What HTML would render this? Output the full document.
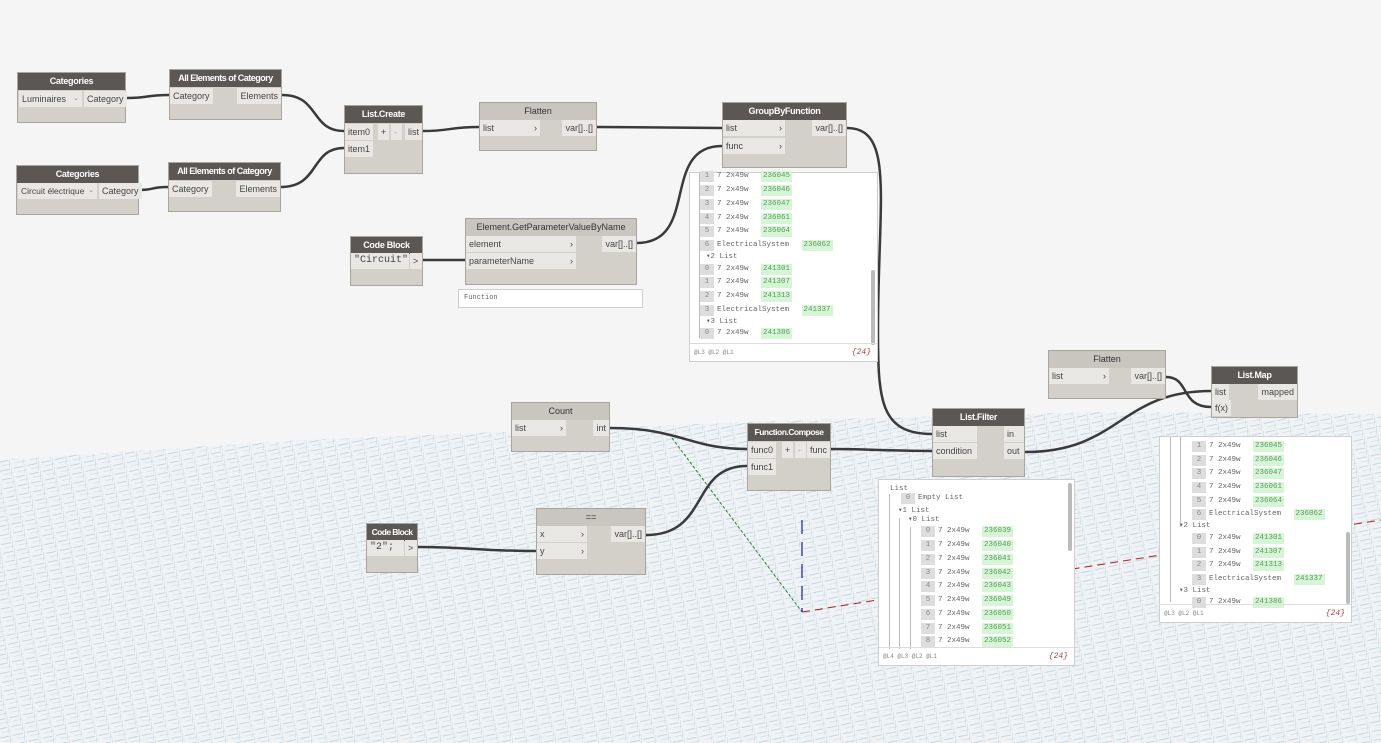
<!DOCTYPE html>
<html><head><meta charset="utf-8">
<style>
*{box-sizing:border-box;margin:0;padding:0}
body{width:1381px;height:743px;overflow:hidden;background:#f5f5f5;font-family:"Liberation Sans",sans-serif;position:relative}
svg.bg{position:absolute;left:0;top:0}
.n{position:absolute;background:#d3cfc9;border:1px solid #a8a49e;font-size:9px;color:#333}
.h{height:17px;background:#5b5754;color:#fff;font-weight:bold;text-align:center;line-height:17px;font-size:9px;white-space:nowrap;overflow:visible;letter-spacing:-0.3px}
.h.l{background:#c9c5bf;color:#333;font-weight:normal;letter-spacing:0}
.p{position:absolute;background:#e9e7e3;height:16px;line-height:16px;padding:0 3px;font-size:9px;color:#444;white-space:nowrap}
.w{position:absolute;background:#fff;border:1px solid #cfcfcf;font-family:"Liberation Mono",monospace;font-size:7.5px;color:#666}
.r{position:absolute;white-space:nowrap;line-height:11px}
.i{display:inline-block;background:#ddd;color:#888;width:14px;text-align:center;margin-right:3px}
.g{display:inline-block;background:#d6f5d6;color:#5a9a5a;padding:0 2px;margin-left:8px}
.f{position:absolute;left:0;right:0;bottom:0;height:18px;border-top:1px solid #ddd;font-size:6px;line-height:17px;padding-left:4px;color:#888}
.f b{position:absolute;right:6px;font-weight:normal;font-style:italic;color:#a44;font-size:8px}
.sb{position:absolute;width:4px;background:#bbb;border-radius:2px}
.vl{position:absolute;width:1px;background:#bbb}
</style></head><body>
<svg class="bg" width="1381" height="743">
<defs>
<pattern id="gp" width="14" height="9" patternUnits="userSpaceOnUse" patternTransform="rotate(-12)">
<rect width="14" height="9" fill="#f0f3f5"/>
<line x1="0" y1="2" x2="10" y2="2" stroke="#b3cad8" stroke-width="0.7"/>
<line x1="3" y1="6" x2="13" y2="6" stroke="#d2dde4" stroke-width="0.7"/>
<line x1="12" y1="0" x2="10" y2="9" stroke="#c3d3dc" stroke-width="0.5"/>
</pattern>
</defs>
<polygon points="0,460 300,440 800,420 1100,412 1381,414 1381,743 0,743" fill="url(#gp)"/>
<line x1="672" y1="438" x2="802" y2="612" stroke="#2a7a2a" stroke-width="1" stroke-dasharray="3,2"/>
<line x1="802" y1="520" x2="802" y2="612" stroke="#2233aa" stroke-width="1.3" stroke-dasharray="14,8"/>
<line x1="802" y1="612" x2="1381" y2="520" stroke="#aa2222" stroke-width="1" stroke-dasharray="8,5"/>
<g fill="none" stroke="#3a3a3a" stroke-width="2.5">
<path d="M126,98 C150,98 145,95 169,95"/>
<path d="M139,190 C155,190 150,187 168,187"/>
<path d="M282,95 C320,95 310,131 344,131"/>
<path d="M281,187 C320,187 310,148 344,148"/>
<path d="M423,131 C450,131 450,127 479,127"/>
<path d="M597,127 L722,128"/>
<path d="M423,260 L465,260"/>
<path d="M637,243 C700,243 660,146 722,146"/>
<path d="M847,128 C895,128 878,200 878,330 C878,400 880,434 932,434"/>
<path d="M610,428 C680,428 690,449 747,449"/>
<path d="M418,547 C470,547 480,551 536,551"/>
<path d="M646,535 C710,535 690,466 747,466"/>
<path d="M831,449 C880,449 880,451 932,451"/>
<path d="M1025,452 C1120,452 1120,391 1211,391"/>
<path d="M1166,377 C1190,377 1180,407 1211,407"/>
</g>
</svg>

<div class="n" style="left:17px;top:72px;width:109px;height:51px"><div class="h">Categories</div>
<div class="p" style="left:1px;top:18px;width:63px">Luminaires <span style="float:right;font-size:7px;color:#888">⌄</span></div><div class="p" style="left:66px;top:18px">Category</div></div>
<div class="n" style="left:169px;top:69px;width:113px;height:51px"><div class="h" style="letter-spacing:-0.5px">All Elements of Category</div>
<div class="p" style="left:0;top:18px">Category</div><div class="p" style="right:0;top:18px">Elements</div></div>
<div class="n" style="left:16px;top:165px;width:123px;height:50px"><div class="h">Categories</div>
<div class="p" style="left:1px;top:17px;width:79px;font-size:8.5px">Circuit électrique <span style="float:right;font-size:7px;color:#888">⌄</span></div><div class="p" style="left:82px;top:17px">Category</div></div>
<div class="n" style="left:168px;top:162px;width:113px;height:50px"><div class="h" style="letter-spacing:-0.5px">All Elements of Category</div>
<div class="p" style="left:0;top:18px">Category</div><div class="p" style="right:0;top:18px">Elements</div></div>

<div class="n" style="left:344px;top:105px;width:79px;height:69px"><div class="h">List.Create</div>
<div class="p" style="left:0;top:18px">item0</div><div class="p" style="left:33px;top:18px;width:11px">+</div><div class="p" style="left:46px;top:18px;width:11px;color:#aaa">-</div><div class="p" style="right:0;top:18px">list</div>
<div class="p" style="left:0;top:35px">item1</div></div>

<div class="n" style="left:479px;top:102px;width:118px;height:49px"><div class="h l">Flatten</div>
<div class="p" style="left:0;top:17px;width:60px">list<span style="float:right">›</span></div><div class="p" style="right:0;top:17px">var[]..[]</div></div>

<div class="n" style="left:722px;top:102px;width:125px;height:66px"><div class="h">GroupByFunction</div>
<div class="p" style="left:0;top:17px;width:62px">list<span style="float:right">›</span></div><div class="p" style="right:0;top:17px">var[]..[]</div>
<div class="p" style="left:0;top:35px;width:62px">func<span style="float:right">›</span></div></div>

<div class="w" style="left:689px;top:172px;width:189px;height:190px">
<div class="vl" style="left:9px;top:0;height:165px"></div>
<div class="r" style="left:10px;top:-2px"><span class="i">1</span>7 2x49w <span class="g">236045</span></div>
<div class="r" style="left:10px;top:12px"><span class="i">2</span>7 2x49w <span class="g">236046</span></div>
<div class="r" style="left:10px;top:26px"><span class="i">3</span>7 2x49w <span class="g">236047</span></div>
<div class="r" style="left:10px;top:40px"><span class="i">4</span>7 2x49w <span class="g">236061</span></div>
<div class="r" style="left:10px;top:53px"><span class="i">5</span>7 2x49w <span class="g">236064</span></div>
<div class="r" style="left:10px;top:67px"><span class="i">6</span>ElectricalSystem <span class="g">236062</span></div>
<div class="r" style="left:16px;top:79px">▾2 List</div>
<div class="r" style="left:10px;top:91px"><span class="i">0</span>7 2x49w <span class="g">241301</span></div>
<div class="r" style="left:10px;top:104px"><span class="i">1</span>7 2x49w <span class="g">241307</span></div>
<div class="r" style="left:10px;top:118px"><span class="i">2</span>7 2x49w <span class="g">241313</span></div>
<div class="r" style="left:10px;top:132px"><span class="i">3</span>ElectricalSystem <span class="g">241337</span></div>
<div class="r" style="left:16px;top:144px">▾3 List</div>
<div class="r" style="left:10px;top:155px"><span class="i">0</span>7 2x49w <span class="g">241386</span></div>
<div class="sb" style="left:181px;top:97px;height:75px"></div>
<div class="f">@L3 @L2 @L1<b>{24}</b></div></div>

<div class="n" style="left:350px;top:236px;width:73px;height:50px"><div class="h">Code Block</div>
<div class="p" style="left:0;top:16px;width:58px;font-family:'Liberation Mono',monospace;font-size:10px">"Circuit";</div><div class="p" style="right:0;top:16px;width:12px">&gt;</div></div>

<div class="n" style="left:465px;top:218px;width:172px;height:67px"><div class="h l">Element.GetParameterValueByName</div>
<div class="p" style="left:0;top:17px;width:110px">element<span style="float:right">›</span></div><div class="p" style="right:0;top:17px">var[]..[]</div>
<div class="p" style="left:0;top:34px;width:110px">parameterName<span style="float:right">›</span></div></div>
<div class="w" style="left:458px;top:289px;width:185px;height:19px;padding:4px 5px;font-size:7px">Function</div>

<div class="n" style="left:511px;top:402px;width:99px;height:50px"><div class="h l">Count</div>
<div class="p" style="left:0;top:17px;width:54px">list<span style="float:right">›</span></div><div class="p" style="right:0;top:17px">int</div></div>

<div class="n" style="left:747px;top:423px;width:84px;height:68px"><div class="h" style="letter-spacing:-0.5px;font-size:8.5px">Function.Compose</div>
<div class="p" style="left:0;top:18px">func0</div><div class="p" style="left:34px;top:18px;width:11px">+</div><div class="p" style="left:47px;top:18px;width:11px;color:#aaa">-</div><div class="p" style="right:0;top:18px">func</div>
<div class="p" style="left:0;top:35px">func1</div></div>

<div class="n" style="left:932px;top:408px;width:93px;height:69px"><div class="h">List.Filter</div>
<div class="p" style="left:0;top:17px;width:44px">list</div><div class="p" style="right:0;top:17px;width:20px">in</div>
<div class="p" style="left:0;top:34px;width:44px">condition</div><div class="p" style="right:0;top:34px;width:20px">out</div></div>

<div class="w" style="left:878px;top:479px;width:197px;height:187px">
<div class="vl" style="left:10px;top:14px;height:155px"></div><div class="vl" style="left:20px;top:38px;height:131px"></div><div class="vl" style="left:31px;top:47px;height:122px"></div>
<div class="r" style="left:11px;top:4px">List</div>
<div class="r" style="left:22px;top:13px"><span class="i">0</span>Empty List</div>
<div class="r" style="left:19px;top:26px">▾1 List</div>
<div class="r" style="left:29px;top:35px">▾0 List</div>
<div class="r" style="left:42px;top:46px"><span class="i">0</span>7 2x49w <span class="g">236039</span></div>
<div class="r" style="left:42px;top:60px"><span class="i">1</span>7 2x49w <span class="g">236040</span></div>
<div class="r" style="left:42px;top:74px"><span class="i">2</span>7 2x49w <span class="g">236041</span></div>
<div class="r" style="left:42px;top:88px"><span class="i">3</span>7 2x49w <span class="g">236042</span></div>
<div class="r" style="left:42px;top:101px"><span class="i">4</span>7 2x49w <span class="g">236043</span></div>
<div class="r" style="left:42px;top:115px"><span class="i">5</span>7 2x49w <span class="g">236049</span></div>
<div class="r" style="left:42px;top:129px"><span class="i">6</span>7 2x49w <span class="g">236050</span></div>
<div class="r" style="left:42px;top:143px"><span class="i">7</span>7 2x49w <span class="g">236051</span></div>
<div class="r" style="left:42px;top:156px"><span class="i">8</span>7 2x49w <span class="g">236052</span></div>
<div class="sb" style="left:189px;top:3px;height:68px"></div>
<div class="f">@L4 @L3 @L2 @L1<b>{24}</b></div></div>

<div class="n" style="left:366px;top:523px;width:52px;height:50px"><div class="h" style="letter-spacing:-0.6px;font-size:8.5px">Code Block</div>
<div class="p" style="left:0;top:16px;width:37px;font-family:'Liberation Mono',monospace;font-size:10px">"2";</div><div class="p" style="right:0;top:16px;width:12px">&gt;</div></div>

<div class="n" style="left:536px;top:508px;width:110px;height:67px"><div class="h l">==</div>
<div class="p" style="left:0;top:17px;width:50px">x<span style="float:right">›</span></div><div class="p" style="right:0;top:17px">var[]..[]</div>
<div class="p" style="left:0;top:34px;width:50px">y<span style="float:right">›</span></div></div>

<div class="n" style="left:1048px;top:350px;width:118px;height:49px"><div class="h l">Flatten</div>
<div class="p" style="left:0;top:17px;width:60px">list<span style="float:right">›</span></div><div class="p" style="right:0;top:17px">var[]..[]</div></div>

<div class="n" style="left:1211px;top:366px;width:87px;height:52px"><div class="h">List.Map</div>
<div class="p" style="left:0;top:17px">list</div><div class="p" style="right:0;top:17px">mapped</div>
<div class="p" style="left:0;top:33px">f(x)</div></div>

<div class="w" style="left:1159px;top:436px;width:193px;height:187px">
<div class="vl" style="left:10px;top:0;height:165px"></div><div class="vl" style="left:20px;top:0;height:90px"></div>
<div class="r" style="left:32px;top:4px"><span class="i">1</span>7 2x49w <span class="g">236045</span></div>
<div class="r" style="left:32px;top:18px"><span class="i">2</span>7 2x49w <span class="g">236046</span></div>
<div class="r" style="left:32px;top:31px"><span class="i">3</span>7 2x49w <span class="g">236047</span></div>
<div class="r" style="left:32px;top:45px"><span class="i">4</span>7 2x49w <span class="g">236061</span></div>
<div class="r" style="left:32px;top:59px"><span class="i">5</span>7 2x49w <span class="g">236064</span></div>
<div class="r" style="left:32px;top:72px"><span class="i">6</span>ElectricalSystem <span class="g">236062</span></div>
<div class="r" style="left:19px;top:84px">▾2 List</div>
<div class="r" style="left:32px;top:96px"><span class="i">0</span>7 2x49w <span class="g">241301</span></div>
<div class="r" style="left:32px;top:110px"><span class="i">1</span>7 2x49w <span class="g">241307</span></div>
<div class="r" style="left:32px;top:123px"><span class="i">2</span>7 2x49w <span class="g">241313</span></div>
<div class="r" style="left:32px;top:137px"><span class="i">3</span>ElectricalSystem <span class="g">241337</span></div>
<div class="r" style="left:19px;top:149px">▾3 List</div>
<div class="r" style="left:32px;top:160px"><span class="i">0</span>7 2x49w <span class="g">241386</span></div>
<div class="sb" style="left:186px;top:95px;height:72px"></div>
<div class="f">@L3 @L2 @L1<b>{24}</b></div></div>
</body></html>
